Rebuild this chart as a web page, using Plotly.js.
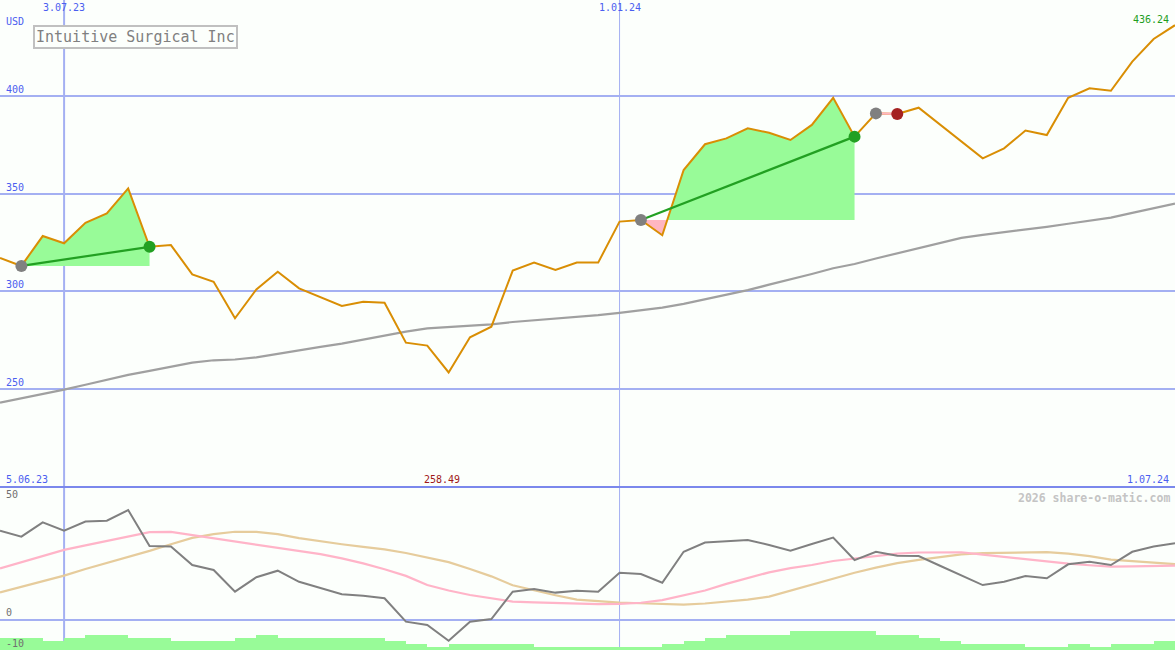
<!DOCTYPE html>
<html>
<head>
<meta charset="utf-8">
<script src="https://cdn.plot.ly/plotly-3.0.1.min.js"></script>
<style>
html,body{margin:0;padding:0;background:#fcfffc;}
#chart{width:1175px;height:650px;}
</style>
</head>
<body>
<div id="chart"></div>
<script>
// ---- data (weekly) ----
const dates = ['2023-06-12','2023-06-19','2023-06-26','2023-07-03','2023-07-10','2023-07-17','2023-07-24','2023-07-31',
'2023-08-07','2023-08-14','2023-08-21','2023-08-28','2023-09-04','2023-09-11','2023-09-18','2023-09-25',
'2023-10-02','2023-10-09','2023-10-16','2023-10-23','2023-10-30','2023-11-06','2023-11-13','2023-11-20',
'2023-11-27','2023-12-04','2023-12-11','2023-12-18','2023-12-25','2024-01-01','2024-01-08','2024-01-15',
'2024-01-22','2024-01-29','2024-02-05','2024-02-12','2024-02-19','2024-02-26','2024-03-04','2024-03-11',
'2024-03-18','2024-03-25','2024-04-01','2024-04-08','2024-04-15','2024-04-22','2024-04-29','2024-05-06',
'2024-05-13','2024-05-20','2024-05-27','2024-06-03','2024-06-10','2024-06-17','2024-06-24','2024-07-01'];

const closePrice = [317.1,313.0,328.3,324.6,335.1,339.9,352.7,322.8,
323.7,308.7,304.9,286.2,301.0,310.0,301.5,297.1,
292.5,294.7,294.2,273.7,272.2,258.49,276.5,281.9,
310.6,314.7,310.9,314.7,314.7,335.7,336.5,328.7,
362.1,375.3,378.3,383.5,381.2,377.5,385.2,399.1,
379.2,391.1,390.8,394.0,385.5,377.0,368.1,373.2,
382.3,380.0,399.1,403.9,402.7,417.6,429.2,436.24];

const movingAvg = [243.0,245.2,247.5,249.7,252.2,254.7,257.2,259.3,
261.5,263.5,264.7,265.1,266.2,268.1,270.0,271.6,
273.2,275.2,277.5,279.4,281.0,281.6,282.2,283.1,
284.3,285.2,286.0,286.8,287.8,289.0,290.3,291.7,
293.6,295.9,298.2,300.6,303.4,306.0,308.9,311.8,
314.0,316.8,319.4,322.2,324.9,327.4,328.9,330.2,
331.6,333.0,334.6,336.1,337.7,340.2,342.7,344.9];

const oscillator = [37.8,35.3,41.4,37.8,41.7,42.1,46.6,31.4,
31.1,23.3,21.2,12.0,18.1,20.9,16.2,13.4,
10.9,10.3,9.2,-0.7,-2.1,-8.8,-0.7,0.4,
12.0,13.1,11.6,12.4,12.0,20.0,19.5,15.8,
28.9,32.8,33.2,33.9,31.8,29.4,32.2,34.9,
25.4,28.9,27.2,27.1,23.0,18.9,14.8,16.2,
18.6,17.7,23.6,24.7,23.3,28.9,31.1,32.5];

const oscFast = [21.9,24.5,27.1,29.7,31.6,33.4,35.3,37.2,
37.3,36.0,34.5,33.3,32.0,30.7,29.3,27.9,
26.1,24.0,21.5,18.7,14.8,12.5,10.6,9.1,
7.8,7.5,7.2,6.8,6.7,6.8,7.3,8.4,
10.4,12.5,15.3,17.9,20.2,22.0,23.3,25.0,
26.1,27.1,28.1,28.6,28.8,28.7,27.7,26.7,
25.7,24.7,23.9,23.2,22.6,22.7,22.9,23.0];

const oscSlow = [11.7,14.0,16.4,18.8,21.6,24.1,26.5,29.3,
32.1,34.8,36.4,37.4,37.3,36.4,34.7,33.3,
32.1,31.0,29.9,28.4,26.3,24.5,21.6,18.5,
14.7,12.5,10.5,8.6,7.9,7.4,7.1,6.7,
6.5,7.0,7.7,8.6,9.9,12.5,15.1,17.5,
20.0,22.2,24.1,25.5,26.8,27.8,28.3,28.5,
28.7,28.8,28.1,27.1,25.6,24.9,24.2,23.7];

// weekly volume level (bar from week start to next week)
const volume = [12,12,9,12,15,15,12,12,9,9,9,12,15,12,12,12,12,12,9,6,3,6,6,6,6,3,3,3,3,3,3,6,9,12,15,15,15,19,19,19,19,15,15,12,9,6,6,6,3,3,6,3,6,6,9];

const tradeEntry = ['2023-06-19','2024-01-08','2024-03-25'];
const tradeExit  = ['2023-07-31','2024-03-18','2024-04-01'];

const priceTicks = [250,300,350,400];
const oscTicks = [50,0,-10];
const gridDates = ['2023-07-03','2024-01-01'];
const gridDateLabels = ['3.07.23','1.01.24'];
const startLabel = '5.06.23', endLabel = '1.07.24';
const titleText = 'Intuitive Surgical Inc';
const currency = 'USD';
const watermark = '2026 share-o-matic.com';

// ---- helpers ----
const DAY = 86400000;
const ms = d => new Date(d + 'T00:00:00Z').getTime();
const idx = d => dates.indexOf(d);

const H = 650;
const sepFrac = 163 / H;           // separator between panels

const traces = [];

// trade fills
tradeEntry.forEach((en,t)=>{
  const a = idx(en), b = idx(tradeExit[t]);
  const base = closePrice[a];
  const X = [], V = [];
  for (let i=a;i<=b;i++){
    X.push(ms(dates[i])); V.push(closePrice[i]);
    if (i<b){
      const v0 = closePrice[i]-base, v1 = closePrice[i+1]-base;
      if (v0*v1 < 0){
        const f = v0/(v0-v1);
        X.push(ms(dates[i]) + f*(ms(dates[i+1])-ms(dates[i])));
        V.push(base);
      }
    }
  }
  const B = X.map(()=>base);
  const up = V.map(v=>Math.max(v,base)), lo = V.map(v=>Math.min(v,base));
  const common = {type:'scatter', mode:'lines', x:X, xaxis:'x', yaxis:'y', hoverinfo:'skip', showlegend:false};
  traces.push(Object.assign({}, common, {y:B, line:{width:0}}));
  traces.push(Object.assign({}, common, {y:up, fill:'tonexty', fillcolor:'#98fb98', line:{width:0}}));
  traces.push(Object.assign({}, common, {y:B, line:{width:0}}));
  traces.push(Object.assign({}, common, {y:lo, fill:'tonexty', fillcolor:'#ffb6c1', line:{width:0}}));
});

// moving average
traces.push({type:'scatter', mode:'lines', x:dates, y:movingAvg, line:{color:'#a0a0a0', width:2.2},
  xaxis:'x', yaxis:'y', hoverinfo:'skip', showlegend:false});
// price
traces.push({type:'scatter', mode:'lines', x:dates, y:closePrice, line:{color:'#d98e04', width:2},
  xaxis:'x', yaxis:'y', hoverinfo:'skip', showlegend:false});

// trade lines + markers
tradeEntry.forEach((en,t)=>{
  const a = idx(en), b = idx(tradeExit[t]);
  const win = closePrice[b] >= closePrice[a];
  traces.push({type:'scatter', mode:'lines', x:[en, tradeExit[t]], y:[closePrice[a], closePrice[b]],
    line:{color: win ? '#22a022' : '#ffb6c1', width:2.2}, xaxis:'x', yaxis:'y', hoverinfo:'skip', showlegend:false});
  traces.push({type:'scatter', mode:'markers', x:[en], y:[closePrice[a]],
    marker:{color:'#808080', size:12}, xaxis:'x', yaxis:'y', hoverinfo:'skip', showlegend:false});
  traces.push({type:'scatter', mode:'markers', x:[tradeExit[t]], y:[closePrice[b]],
    marker:{color: win ? '#22a022' : '#a52222', size:12}, xaxis:'x', yaxis:'y', hoverinfo:'skip', showlegend:false});
});

// oscillator panel
traces.push({type:'scatter', mode:'lines', x:dates, y:oscSlow, line:{color:'#e6cc9c', width:2.2},
  xaxis:'x', yaxis:'y2', hoverinfo:'skip', showlegend:false});
traces.push({type:'scatter', mode:'lines', x:dates, y:oscFast, line:{color:'#ffb4c8', width:2.2},
  xaxis:'x', yaxis:'y2', hoverinfo:'skip', showlegend:false});
traces.push({type:'scatter', mode:'lines', x:dates, y:oscillator, line:{color:'#808080', width:2},
  xaxis:'x', yaxis:'y2', hoverinfo:'skip', showlegend:false});

// volume bars (overlaying the lower panel, 1 unit = 1 px)
traces.push({
  type:'bar', x: volume.map((v,i)=> ms(dates[i]) + 3.5*DAY), y: volume,
  width: volume.map(()=>7*DAY), marker:{color:'#98fb98', line:{width:0}},
  xaxis:'x', yaxis:'y3', hoverinfo:'skip', showlegend:false
});

// ---- annotations ----
const blue = '#4b5ef0';
const mono = 'DejaVu Sans Mono';
const ann = [];
priceTicks.forEach(p=> ann.push({xref:'paper', yref:'y', x:0, y:p, xanchor:'left', yanchor:'bottom',
  xshift:4, yshift:-1, text:String(p), showarrow:false, font:{family:mono, size:10, color:blue}}));
ann.push({xref:'paper', yref:'paper', x:0, y:1, xanchor:'left', yanchor:'top', xshift:4, yshift:-14,
  text:currency, showarrow:false, font:{family:mono, size:10, color:blue}});
gridDates.forEach((d,i)=> ann.push({xref:'x', yref:'paper', x:d, y:1, xanchor:'center', yanchor:'top', yshift:0,
  text:gridDateLabels[i], showarrow:false, font:{family:mono, size:10, color:blue}}));
ann.push({xref:'paper', yref:'paper', x:1, y:1, xanchor:'right', yanchor:'top', xshift:-4, yshift:-12,
  text:closePrice[closePrice.length-1].toFixed(2), showarrow:false, font:{family:mono, size:10, color:'#1e9e1e'}});
ann.push({xref:'paper', yref:'paper', x:0, y:sepFrac, xanchor:'left', yanchor:'bottom', xshift:4, yshift:0,
  text:startLabel, showarrow:false, font:{family:mono, size:10, color:blue}});
ann.push({xref:'paper', yref:'paper', x:1, y:sepFrac, xanchor:'right', yanchor:'bottom', xshift:-4, yshift:0,
  text:endLabel, showarrow:false, font:{family:mono, size:10, color:blue}});
const minI = closePrice.indexOf(Math.min(...closePrice));
ann.push({xref:'x', yref:'paper', x:dates[minI], y:sepFrac, xanchor:'center', yanchor:'bottom', xshift:-7, yshift:0,
  text:closePrice[minI].toFixed(2), showarrow:false, font:{family:mono, size:10, color:'#a01818'}});
ann.push({xref:'paper', yref:'paper', x:1, y:sepFrac, xanchor:'right', yanchor:'top', xshift:-3, yshift:-2,
  text:'<b>'+watermark+'</b>', showarrow:false, font:{family:mono, size:11.5, color:'#c4c4c4'}});
oscTicks.forEach(v=> ann.push({xref:'paper', yref:'y2', x:0, y:v, xanchor:'left', yanchor: v<0 ? 'middle':'bottom',
  xshift:4, yshift:0, text:String(v), showarrow:false, font:{family:mono, size:10, color:'#707070'}}));
ann.push({xref:'paper', yref:'paper', x:33/1175, y:1-25/H, xanchor:'left', yanchor:'top',
  text:titleText, showarrow:false, font:{family:mono, size:15, color:'#808080'},
  bordercolor:'#c0c0c0', borderwidth:2, borderpad:1, bgcolor:'#fcfffc'});

// ---- shapes ----
const shapes = [];
gridDates.forEach((d,i)=> shapes.push({type:'line', xref:'x', yref:'paper', x0:d, x1:d, y0:0, y1:1,
  line:{color:'#a4b0f2', width: i===0 ? 2 : 1}, layer:'below'}));
shapes.push({type:'line', xref:'paper', yref:'paper', x0:0, x1:1, y0:sepFrac, y1:sepFrac,
  line:{color:'#7b88ec', width:2}, layer:'above'});

const layout = {
  width:1175, height:650,
  margin:{l:0, r:0, t:0, b:0, pad:0},
  paper_bgcolor:'#fcfffc', plot_bgcolor:'#fcfffc',
  showlegend:false, bargap:0,
  xaxis:{type:'date', range:[dates[0], dates[dates.length-1]], showgrid:false, zeroline:false,
    showticklabels:false, ticks:'', showline:false, fixedrange:true},
  yaxis:{domain:[sepFrac,1], range:[400-391/1.9533, 400+96/1.9533], tickvals:priceTicks, showgrid:true,
    gridcolor:'#a4b0f2', gridwidth:2, zeroline:false, showticklabels:false, ticks:'', showline:false},
  yaxis2:{domain:[0,sepFrac], range:[-30/2.36, 133/2.36], tickvals:[0], showgrid:true,
    gridcolor:'#a4b0f2', gridwidth:2, zeroline:false, showticklabels:false, ticks:'', showline:false, anchor:'x'},
  yaxis3:{overlaying:'y2', range:[0,163], showgrid:false, zeroline:false, showticklabels:false,
    ticks:'', showline:false, anchor:'x'},
  annotations:ann, shapes:shapes
};

Plotly.newPlot('chart', traces, layout, {displayModeBar:false, staticPlot:true});
</script>
</body>
</html>
